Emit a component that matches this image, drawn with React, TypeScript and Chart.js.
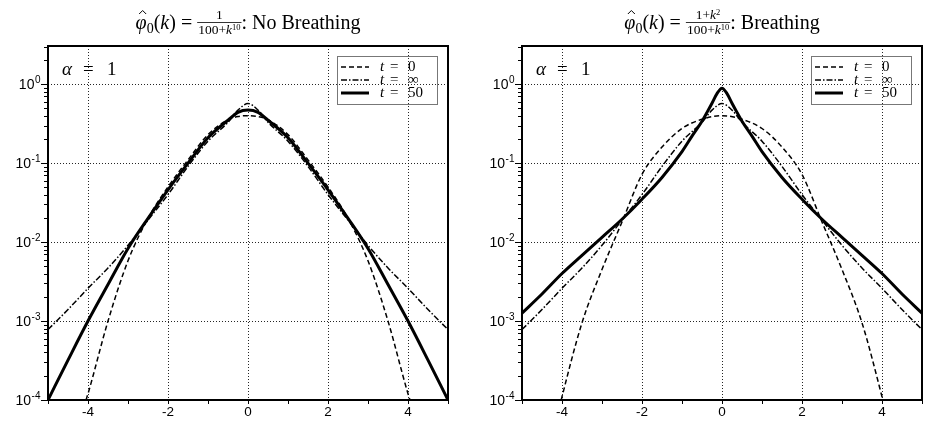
import React, { useEffect, useRef } from 'react';
import { Chart, registerables } from 'chart.js';
Chart.register(...registerables);

// ---------- data ----------
const xTickValues = [-4, -2, 0, 2, 4];
const xMinorTickValues = [-5, -4, -3, -2, -1, 0, 1, 2, 3, 4, 5];
const yDecadeValues = [1e-4, 1e-3, 1e-2, 1e-1, 1];
const yDecadeExponents = ['-4', '-3', '-2', '-1', '0'];
const legendValues = ['0', '∞', '50'];
const titleLabels = ['No Breathing', 'Breathing'];

// t = ∞ (same curve in both panels)
const kInf = [-5, -4.5, -4, -3.5, -3, -2.5, -2, -1.5, -1, -0.5, -0.25, 0, 0.25, 0.5, 1, 1.5, 2, 2.5, 3, 3.5, 4, 4.5, 5];
const phiInf = [7.8e-4, 1.4e-3, 2.6e-3, 4.7e-3, 9.1e-3, 0.019, 0.040, 0.091, 0.19, 0.33, 0.47, 0.57, 0.47, 0.33, 0.19, 0.091, 0.040, 0.019, 9.1e-3, 4.7e-3, 2.6e-3, 1.4e-3, 7.8e-4];

// left panel: No Breathing
const kNoBreathT0 = [-4.05, -4, -3.5, -3, -2.5, -2, -1.5, -1, -0.5, -0.25, 0, 0.25, 0.5, 1, 1.5, 2, 2.5, 3, 3.5, 4, 4.05];
const phiNoBreathT0 = [1.0e-4, 1.2e-4, 1.0e-3, 5.8e-3, 0.020, 0.050, 0.11, 0.23, 0.355, 0.39, 0.40, 0.39, 0.355, 0.23, 0.11, 0.050, 0.020, 5.8e-3, 1.0e-3, 1.2e-4, 1.0e-4];
const kNoBreathT50 = [-5, -4.5, -4, -3.5, -3, -2.5, -2, -1.5, -1, -0.5, -0.25, 0, 0.25, 0.5, 1, 1.5, 2, 2.5, 3, 3.5, 4, 4.5, 5];
const phiNoBreathT50 = [1.0e-4, 3.2e-4, 1.0e-3, 2.9e-3, 8.3e-3, 0.020, 0.046, 0.10, 0.21, 0.35, 0.44, 0.47, 0.44, 0.35, 0.21, 0.10, 0.046, 0.020, 8.3e-3, 2.9e-3, 1.0e-3, 3.2e-4, 1.0e-4];

// right panel: Breathing
const kBreathT0 = [-4.02, -4, -3.5, -3, -2.5, -2, -1.5, -1, -0.5, 0, 0.5, 1, 1.5, 2, 2.5, 3, 3.5, 4, 4.02];
const phiBreathT0 = [1.0e-4, 1.1e-4, 9.5e-4, 4.5e-3, 0.018, 0.072, 0.16, 0.275, 0.36, 0.40, 0.36, 0.275, 0.16, 0.072, 0.018, 4.5e-3, 9.5e-4, 1.1e-4, 1.0e-4];
const kBreathT50 = [-5, -4.5, -4, -3.5, -3, -2.5, -2, -1.5, -1, -0.75, -0.5, -0.375, -0.25, -0.125, 0, 0.125, 0.25, 0.375, 0.5, 0.75, 1, 1.5, 2, 2.5, 3, 3.5, 4, 4.5, 5];
const phiBreathT50 = [1.26e-3, 2.2e-3, 4.0e-3, 6.8e-3, 0.0115, 0.0195, 0.035, 0.066, 0.14, 0.22, 0.34, 0.44, 0.575, 0.76, 0.89, 0.76, 0.575, 0.44, 0.34, 0.22, 0.14, 0.066, 0.035, 0.0195, 0.0115, 6.8e-3, 4.0e-3, 2.2e-3, 1.26e-3];

// ---------- styling ----------
const SERIF = '"Liberation Serif", "DejaVu Serif", serif';
const SANS = '"Liberation Sans", Arial, sans-serif';

type Run = { t: string; f: string; dy?: number };

function runsWidth(ctx: CanvasRenderingContext2D, runs: Run[]) {
  let w = 0;
  for (const r of runs) { ctx.font = r.f; w += ctx.measureText(r.t).width; }
  return w;
}
function drawRuns(ctx: CanvasRenderingContext2D, runs: Run[], x: number, y: number) {
  let cx = x;
  for (const r of runs) {
    ctx.font = r.f;
    ctx.fillText(r.t, cx, y + (r.dy || 0));
    cx += ctx.measureText(r.t).width;
  }
  return cx;
}

type Panel = {
  numerator: Run[];
  label: string;
  k0: number[]; v0: number[];
  k50: number[]; v50: number[];
  padLeft: number; padRight: number;
};

const fMain = `20px ${SERIF}`;
const fMainIt = `italic 20px ${SERIF}`;
const fSub = `14px ${SERIF}`;
const fFrac = `13.5px ${SERIF}`;
const fFracIt = `italic 13.5px ${SERIF}`;
const fFracSup = `8.5px ${SERIF}`;

const dashT0 = [5, 3];
const dashInf = [6, 2, 1.5, 2];

function makeDecor(p: Panel) {
  return {
    id: 'decor',
    beforeDatasetsDraw(chart: any) {
      const ctx = chart.ctx as CanvasRenderingContext2D;
      const { left, right, top, bottom } = chart.chartArea;
      const xs = chart.scales.x, ys = chart.scales.y;
      ctx.save();
      ctx.strokeStyle = 'rgba(0,0,0,0.85)';
      ctx.lineWidth = 1;
      ctx.setLineDash([1, 2]);
      for (const v of xTickValues) {
        const px = Math.round(xs.getPixelForValue(v)) + 0.5;
        ctx.beginPath(); ctx.moveTo(px, top); ctx.lineTo(px, bottom); ctx.stroke();
      }
      for (const v of yDecadeValues) {
        const py = Math.round(ys.getPixelForValue(v)) + 0.5;
        ctx.beginPath(); ctx.moveTo(left, py); ctx.lineTo(right, py); ctx.stroke();
      }
      ctx.restore();
    },
    afterDatasetsDraw(chart: any) {
      const ctx = chart.ctx as CanvasRenderingContext2D;
      const { left, right, top, bottom } = chart.chartArea;
      const xs = chart.scales.x, ys = chart.scales.y;
      ctx.save();
      // ticks
      ctx.strokeStyle = '#000';
      ctx.lineWidth = 1;
      ctx.setLineDash([]);
      for (const v of xMinorTickValues) {
        const px = Math.round(xs.getPixelForValue(v)) + 0.5;
        ctx.beginPath(); ctx.moveTo(px, bottom); ctx.lineTo(px, bottom + 4); ctx.stroke();
      }
      for (let e = -4; e <= 0; e++) {
        for (let m = 1; m <= 9; m++) {
          const v = m * Math.pow(10, e);
          if (v > ys.max) continue;
          const py = Math.round(ys.getPixelForValue(v)) + 0.5;
          const len = m === 1 ? 7 : 4;
          ctx.beginPath(); ctx.moveTo(left - len, py); ctx.lineTo(left, py); ctx.stroke();
        }
      }
      // y tick labels: 10 with superscript exponent
      ctx.fillStyle = '#000';
      ctx.textAlign = 'left';
      ctx.textBaseline = 'alphabetic';
      yDecadeValues.forEach((v, i) => {
        const py = ys.getPixelForValue(v);
        const ex = yDecadeExponents[i];
        ctx.font = `10px ${SANS}`;
        const wE = ctx.measureText(ex).width;
        ctx.font = `14px ${SANS}`;
        const w10 = ctx.measureText('10').width;
        const xr = left - 8;
        const x0 = xr - wE - w10;
        ctx.fillText('10', x0, py + 5);
        ctx.font = `10px ${SANS}`;
        ctx.fillText(ex, x0 + w10 + 0.5, py - 1);
      });

      // frame
      ctx.lineWidth = 2;
      ctx.strokeRect(left, top, right - left, bottom - top);

      // alpha label
      ctx.font = `italic 19px ${SERIF}`;
      ctx.fillText('α', left + 14, top + 29);
      ctx.font = `19px ${SERIF}`;
      ctx.fillText('=', left + 35, top + 29);
      ctx.fillText('1', left + 59, top + 29);

      // legend
      const bR = right - 11, bW = 100, bT = top + 10, bH = 48;
      const bL = bR - bW;
      ctx.strokeStyle = '#777';
      ctx.lineWidth = 1;
      ctx.strokeRect(Math.round(bL) + 0.5, Math.round(bT) + 0.5, bW, bH);
      const rows = [
        { dash: dashT0, w: 1.5 },
        { dash: dashInf, w: 1.5 },
        { dash: [], w: 3 },
      ];
      rows.forEach((r, i) => {
        const cy = bT + 11 + i * 13;
        ctx.strokeStyle = '#000';
        ctx.lineWidth = r.w;
        ctx.setLineDash(r.dash);
        ctx.beginPath(); ctx.moveTo(bL + 4, cy); ctx.lineTo(bL + 32, cy); ctx.stroke();
        ctx.setLineDash([]);
        ctx.textBaseline = 'middle';
        ctx.font = `italic 15px ${SERIF}`;
        ctx.fillText('t', bL + 43, cy);
        ctx.font = `15px ${SERIF}`;
        ctx.fillText('=', bL + 53, cy);
        ctx.fillText(legendValues[i], bL + 71, cy);
      });

      // title
      ctx.textBaseline = 'alphabetic';
      const cx = (left + right) / 2;
      const base = 29;
      const pre: Run[] = [
        { t: 'φ', f: fMainIt },
        { t: '0', f: fSub, dy: 4 },
        { t: '(', f: fMain },
        { t: 'k', f: fMainIt },
        { t: ') = ', f: fMain },
      ];
      const den: Run[] = [
        { t: '100+', f: fFrac },
        { t: 'k', f: fFracIt },
        { t: '10', f: fFracSup, dy: -4 },
      ];
      const num = p.numerator;
      const post: Run[] = [{ t: ': ' + p.label, f: fMain }];
      const wPre = runsWidth(ctx, pre);
      const wNum = runsWidth(ctx, num);
      const wDen = runsWidth(ctx, den);
      const wFrac = Math.max(wNum, wDen) + 2;
      const wPost = runsWidth(ctx, post);
      const total = wPre + wFrac + wPost;
      let x = cx - total / 2;
      // hat over phi
      ctx.font = fMainIt;
      const wPhi = ctx.measureText('φ').width;
      const hx = x + wPhi / 2 + 1.5;
      ctx.strokeStyle = '#000';
      ctx.lineWidth = 1;
      ctx.beginPath();
      ctx.moveTo(hx - 3.5, base - 15);
      ctx.lineTo(hx, base - 18.5);
      ctx.lineTo(hx + 3.5, base - 15);
      ctx.stroke();
      x = drawRuns(ctx, pre, x, base);
      drawRuns(ctx, num, x + (wFrac - wNum) / 2, base - 10);
      drawRuns(ctx, den, x + (wFrac - wDen) / 2, base + 5);
      ctx.lineWidth = 0.8;
      ctx.beginPath(); ctx.moveTo(x, base - 6.5); ctx.lineTo(x + wFrac, base - 6.5); ctx.stroke();
      x += wFrac;
      drawRuns(ctx, post, x, base);
      ctx.restore();
    },
  };
}

const pts = (k: number[], v: number[]) => k.map((x, i) => ({ x, y: v[i] }));

function makeConfig(p: Panel): any {
  return {
    type: 'line',
    data: {
      datasets: [
        { label: 't = 50', data: pts(p.k50, p.v50), borderColor: '#000', borderWidth: 3, order: 0 },
        { label: 't = ∞', data: pts(kInf, phiInf), borderColor: '#000', borderWidth: 1.5, borderDash: dashInf, order: 1 },
        { label: 't = 0', data: pts(p.k0, p.v0), borderColor: '#000', borderWidth: 1.5, borderDash: dashT0, order: 2 },
      ],
    },
    options: {
      animation: false,
      responsive: false,
      maintainAspectRatio: false,
      layout: { padding: { left: p.padLeft, right: p.padRight, top: 46, bottom: 0 } },
      elements: {
        point: { radius: 0 },
        line: { cubicInterpolationMode: 'monotone', fill: false, borderCapStyle: 'butt' },
      },
      plugins: { legend: { display: false }, tooltip: { enabled: false }, title: { display: false } },
      scales: {
        x: {
          type: 'linear', min: -5, max: 5,
          afterBuildTicks: (s: any) => { s.ticks = xTickValues.map((v) => ({ value: v })); },
          afterFit: (s: any) => { s.height = 25; },
          grid: { display: false, drawTicks: false },
          border: { display: false },
          ticks: { color: '#000', font: { family: SANS, size: 13.5 }, padding: 4, autoSkip: false, maxRotation: 0, callback: (v: number) => String(v) },
        },
        y: {
          type: 'logarithmic', min: 1e-4, max: 3.05,
          afterBuildTicks: (s: any) => { s.ticks = yDecadeValues.map((v) => ({ value: v })); },
          afterFit: (s: any) => { s.width = 48; },
          grid: { display: false, drawTicks: false },
          border: { display: false },
          ticks: { display: false },
        },
      },
    },
    plugins: [makeDecor(p)],
  };
}

const leftPanel: Panel = {
  numerator: [{ t: '1', f: fFrac }],
  label: titleLabels[0],
  k0: kNoBreathT0, v0: phiNoBreathT0,
  k50: kNoBreathT50, v50: phiNoBreathT50,
  padLeft: 0, padRight: 14,
};
const rightPanel: Panel = {
  numerator: [{ t: '1+', f: fFrac }, { t: 'k', f: fFracIt }, { t: '2', f: fFracSup, dy: -4 }],
  label: titleLabels[1],
  k0: kBreathT0, v0: phiBreathT0,
  k50: kBreathT50, v50: phiBreathT50,
  padLeft: 12, padRight: 3,
};

export default function App() {
  const leftRef = useRef<HTMLCanvasElement>(null);
  const rightRef = useRef<HTMLCanvasElement>(null);
  useEffect(() => {
    const c1 = new Chart(leftRef.current as HTMLCanvasElement, makeConfig(leftPanel));
    const c2 = new Chart(rightRef.current as HTMLCanvasElement, makeConfig(rightPanel));
    return () => { c1.destroy(); c2.destroy(); };
  }, []);
  return (
    <div style={{ position: 'fixed', left: 0, top: 0, width: 925, height: 425, background: '#fff' }}>
      <canvas ref={leftRef} width={462} height={425} style={{ position: 'absolute', left: 0, top: 0, width: 462, height: 425 }} />
      <canvas ref={rightRef} width={463} height={425} style={{ position: 'absolute', left: 462, top: 0, width: 463, height: 425 }} />
    </div>
  );
}
